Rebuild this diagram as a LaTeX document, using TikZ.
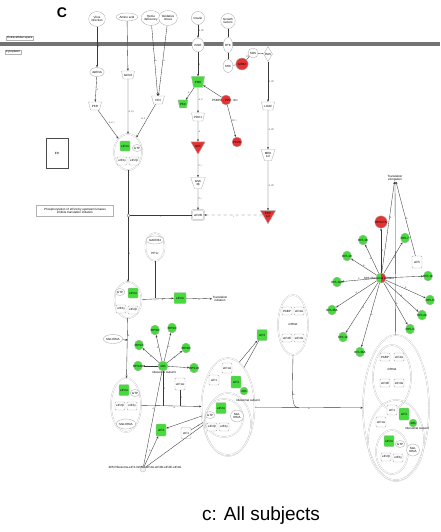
\documentclass[tikz,border=0pt]{standalone}
\usepackage{fontspec}
\setmainfont{Liberation Sans}
\usetikzlibrary{shapes.geometric,arrows.meta}
\definecolor{upg}{RGB}{70,218,60}
\definecolor{dnr}{RGB}{226,52,52}
\begin{document}
\begin{tikzpicture}[x=1pt,y=-1pt,
    tx/.style={font=\fontsize{3}{3.4}\selectfont, inner sep=0.3pt, align=center},
    mol/.style={tx, draw=gray!60, fill=white, rounded corners=1pt, minimum width=10pt, minimum height=8pt},
    oval/.style={tx, ellipse, draw=gray!60, fill=white, minimum width=10pt, minimum height=9pt},
    kin/.style={tx, trapezium, trapezium stretches=true, shape border rotate=180, draw=gray!60, fill=white, minimum width=13pt, minimum height=8pt},
    dtri/.style={tx, regular polygon, regular polygon sides=3, shape border rotate=180, draw=gray!60, minimum size=15pt, inner sep=0pt},
    dot/.style={circle, draw=gray!60, minimum size=10pt, inner sep=0pt, tx},
    sat/.style={ellipse, draw=gray!60, fill=upg, minimum width=9pt, minimum height=10pt, inner sep=0pt, label={[tx]center:#1}},
    cplx/.style={ellipse, draw=gray!50, double=white, double distance=0.8pt, line width=0.3pt, inner sep=0pt},
    up/.style={fill=upg},
    dn/.style={fill=dnr},
    lnk/.style={draw=gray!45!black, line width=0.35pt},
    arr/.style={lnk, -{Stealth[length=2.4pt,width=1.9pt]}},
    el/.style={font=\fontsize{2.2}{2.4}\selectfont, inner sep=0.4pt, text=gray!40!black}]
    \useasboundingbox (0,0) rectangle (440,532);
    \fill [black!55] (0,42.5) rectangle (440,46.5);
    \node [font=\bfseries\fontsize{14}{14}\selectfont] (pnl) at (62,13) {C};
    \node [tx, draw=gray!60, inner sep=0.8pt] (exsp) at (20,38) {Extracellular space};
    \node [tx, draw=gray!60, inner sep=0.8pt] (cyto) at (13,52) {Cytoplasm};
    \node [oval, minimum width=14pt, minimum height=15pt] (virus) at (97,19) {Virus\\infection};
    \node [oval, minimum width=19pt, minimum height=8pt] (amino) at (127,17) {Amino acid};
    \node [oval, minimum width=15pt, minimum height=15pt] (heme) at (151,18) {Heme\\deficiency};
    \node [oval, minimum width=15pt, minimum height=15pt] (oxid) at (168,18) {Oxidative\\stress};
    \node [oval, minimum width=12pt, minimum height=13pt] (insulin) at (198,18) {Insulin};
    \node [oval, minimum width=13pt, minimum height=15pt] (growth) at (228,21) {Growth\\factors};
    \node [oval, minimum width=12pt, minimum height=14pt] (insr) at (198,45) {INSR};
    \node [oval, minimum width=8pt, minimum height=15pt] (rtk) at (228,45) {RTK};
    \node [oval, minimum width=9pt, minimum height=13pt] (shc) at (228,66) {SHC};
    \node [oval, dn, minimum width=9pt, minimum height=12pt] (grb) at (242,64) {GRB2};
    \node [oval, minimum width=10pt, minimum height=10pt] (sos) at (253,53) {SOS};
    \node [tx, diamond, draw=gray!60, fill=white, minimum width=9pt, minimum height=15pt, inner sep=0pt] (ras) at (268,54) {RAS};
    \node [oval, minimum width=13pt, minimum height=9pt] (dsrna) at (97,72) {dsRNA};
    \node [kin] (gcn) at (128,75) {GCN2};
    \node [kin] (pkr) at (95,106) {PKR};
    \node [kin] (hri) at (158,100) {HRI};
    \node [kin, up, minimum height=11pt] (pi3k) at (198,82) {PI3K};
    \node [kin, up, minimum width=9pt] (pkc) at (183,104) {PKC};
    \node [dot, dn] (p58) at (226,100) {};
    \node [tx] (p58t) at (225,100) {P58IPK - PP2 - Src};
    \node [kin] (pdk) at (198,117) {PDK1};
    \node [kin] (craf) at (268,106) {c-RAF};
    \node [dot, dn] (pp2) at (237,142) {PP2A};
    \node [dtri, dn] (akt) at (198,146) {AKT};
    \node [kin, minimum height=11pt] (mek) at (268,155) {MEK\\1/2};
    \node [kin, minimum height=11pt] (gsk) at (198,183) {GSK\\3β};
    \node [mol, double=white, double distance=0.5pt, minimum width=12pt, minimum height=10pt] (eif2b) at (198,215) {eIF2B};
    \node [dtri, dn] (erk) at (268,215) {ERK\\1/2};
    \node [tx, draw=black!70, line width=0.8pt, minimum width=22pt, minimum height=30pt] (er) at (57,153) {ER};
    \node [tx, draw=gray!60, minimum width=77pt, minimum height=11pt] (phos) at (75,211) {Phosphorylation of eIF2α by upstream kinases\\inhibits translation initiation};
    \node [cplx, minimum width=28pt, minimum height=36pt] (c1) at (128,152) {};
    \node [mol, up, minimum height=10pt] (a1) at (125,146) {eIF2α};
    \node [oval, minimum width=8pt, minimum height=7pt] (gtp1) at (137,148) {GTP};
    \node [mol] (g1) at (122,161) {eIF2γ};
    \node [mol] (b1) at (134,161) {eIF2β};
    \draw [arr] (virus) -- node [el, right] {A} (dsrna);
    \draw [arr] (dsrna) -- node [el, right] {A} (pkr);
    \draw [arr] (amino) -- (gcn);
    \draw [arr] (heme) -- node [el, right] {A} (hri);
    \draw [arr] (oxid) -- node [el, right] {A} (hri);
    \draw [arr] (pkr) -- node [el, above right] {A, P, I} (c1);
    \draw [arr] (gcn) -- node [el, right, pos=0.6] {A, P, I} (c1);
    \draw [arr] (hri) -- node [el, above left] {A, P} (c1);
    \draw [arr] (insulin) -- node [el, right] {A, PP} (insr);
    \draw [arr] (insr) -- node [el, right] {A} (pi3k);
    \draw [arr] (pi3k) -- node [el, above left] {A} (pkc);
    \draw [arr] (pi3k) -- node [el, right] {A, P} (pdk);
    \draw [arr] (p58) -- (pi3k);
    \draw [arr] (p58) -- node [el, right] {PP, I} (pp2);
    \draw [arr] (pdk) -- node [el, right] {A} (akt);
    \draw [arr] (akt) -- node [el, right] {P, I} (gsk);
    \draw [arr] (gsk) -- node [el, right] {P, I} (eif2b);
    \draw [lnk] (growth) -- (rtk);
    \draw [lnk] (rtk) -- (shc);
    \draw [lnk] (shc) -- (grb);
    \draw [lnk] (grb) -- node [el, above] {PP} (sos);
    \draw [lnk] (sos) -- (ras);
    \draw [arr] (ras) -- node [el, right] {A, PP} (craf);
    \draw [arr] (craf) -- node [el, right] {A, PP} (mek);
    \draw [arr] (mek) -- node [el, right] {A, PP} (erk);
    \draw [arr, dashed] (erk) -- node [el, below] {I} (eif2b);
    \node [cplx, minimum width=27pt, minimum height=36pt] (c2) at (128,300) {};
    \draw [arr] (c1) -- node [el, right, pos=0.75] {A} (c2);
    \node [draw=gray!60, fill=white, minimum size=2.6pt, inner sep=0pt] (sq) at (128,215) {};
    \draw [lnk] (eif2b) -- node [el, below] {I} (sq);
    \node [cplx, minimum width=19pt, minimum height=28pt] (gd) at (155,247) {};
    \node [oval, minimum width=14pt, minimum height=8pt] (gadd) at (155,240) {GADD34};
    \node [tx] (pp1) at (155,253) {PP1c};
    \node [oval, minimum width=8pt, minimum height=7pt] (gtp2) at (120,292) {GTP};
    \node [mol, up, minimum height=10pt] (a2) at (133,293) {eIF2α};
    \node [mol] (g2) at (121,309) {eIF2γ};
    \node [mol] (b2) at (133,310) {eIF2β};
    \node [mol, up, minimum width=12pt, minimum height=11pt] (a3) at (180,298) {eIF2α};
    \node [tx] (tinit) at (220,299) {Translation\\initiation};
    \draw [arr] (c2) -- node [el, below, pos=0.65] {A} (a3);
    \draw [arr] (a3) -- node [el, below] {A} (tinit);
    \node [circle, draw=gray!60, fill=white, minimum size=2.6pt, inner sep=0pt] (gdend) at (155,299) {};
    \draw [lnk] (gd) -- node [el, right] {I} (gdend);
    \node [oval, minimum width=13pt, minimum height=9pt] (met1) at (113,339) {Met-tRNA};
    \node [cplx, minimum width=30pt, minimum height=54pt] (c3) at (126,405) {};
    \node [mol, up, minimum height=11pt] (a4) at (124,390) {eIF2α};
    \node [oval, minimum width=8pt, minimum height=7pt] (gtp4) at (135,393) {GTP};
    \node [mol] (b4) at (120,406) {eIF2β};
    \node [mol] (g4) at (132,406) {eIF2γ};
    \node [oval, minimum width=14pt, minimum height=10pt] (met4) at (126,424) {Met-tRNA};
    \draw [arr] (c2) -- node [el, right, pos=0.3] {A} (c3);
    \coordinate (j2) at (128,340);
    \draw [arr] (met1) -- node [el, below] {A} (j2);
    \node [dot, up] (s0) at (163,366) {40S};
    \node [tx] (s0t) at (164,372) {ribosomal subunit};
    \node [sat=RPS6] (p1) at (155,330) {};
    \node [sat=RPS3] (p2) at (172,328) {};
    \node [sat=RPS2] (p3) at (139,345) {};
    \node [sat=RPS8] (p4) at (186,348) {};
    \node [sat=RPS4X] (p5) at (138,366) {};
    \node [sat=RPS10] (p6) at (194,368) {};
    \draw [arr] (s0) -- node [el, left] {A} (p1);
    \draw [arr] (s0) -- node [el, right] {A} (p2);
    \draw [arr] (s0) -- node [el, below] {A} (p3);
    \draw [arr] (s0) -- node [el, below] {A} (p4);
    \draw [arr] (s0) -- (p5);
    \draw [arr] (s0) -- (p6);
    \node [mol, minimum height=12pt] (e1a) at (180,384) {eIF1A};
    \node [mol, up, minimum height=12pt] (e3a) at (161,430) {eIF3};
    \node [mol, minimum height=11pt] (e1b) at (186,433) {eIF1};
    \node [circle, draw=gray!50, fill=gray!10, minimum size=6pt, inner sep=0pt] (pt40) at (143,469) {};
    \node [tx] (pt40t) at (145,467) {40S Ribosome-eIF3-mRNA-eIF4A-eIF4B-eIF4E-eIF4G};
    \node [cplx, minimum width=53pt, minimum height=98pt] (c4) at (228,407) {};
    \node [cplx, minimum width=46pt, minimum height=62pt] (c4b) at (228,424) {};
    \node [cplx, minimum width=38pt, minimum height=38pt] (c4c) at (224,418) {};
    \node [mol, minimum height=10pt] (e1a2) at (227,368) {eIF1A};
    \node [mol, minimum height=10pt] (e1c) at (214,380) {eIF1};
    \node [mol, up, minimum height=12pt] (e3b) at (236,382) {eIF3};
    \node [dot, up, minimum size=8pt] (s40b) at (244,391) {40S};
    \node [tx] (s40bt) at (248,400) {ribosomal subunit};
    \node [mol, up, minimum height=11pt] (a5) at (221,408) {eIF2α};
    \node [oval, minimum width=8pt, minimum height=7pt] (gtp5) at (210,415) {GTP};
    \node [mol] (b5) at (212,427) {eIF2β};
    \node [mol] (g5) at (224,427) {eIF2γ};
    \node [oval, minimum width=13pt, minimum height=12pt] (met5) at (237,416) {Met-\\tRNA};
    \coordinate (j4) at (163,406);
    \coordinate (j5) at (180,406);
    \draw [arr] (c3) -- node [el, below, pos=0.55] {A} (c4);
    \draw [lnk] (s0) -- node [el, right] {A} (j4);
    \draw [lnk] (e1a) -- node [el, right] {A} (j5);
    \draw [lnk] (pt40) -- node [el, left, pos=0.6] {A} (s0);
    \draw [arr] (pt40) -- node [el, left] {A} (e3a);
    \draw [lnk] (pt40) -- (c4);
    \draw [arr] (c4) -- (e3a);
    \draw [lnk] (c4) -- node [el, right] {A} (e1b);
    \node [mol, up, minimum height=11pt] (e3c) at (262,335) {eIF3};
    \draw [arr] (c4.76) -- node [el, right] {I} (e3c);
    \draw [lnk] (c4.68) -- (e3c);
    \node [cplx, minimum width=30pt, minimum height=60pt] (c5) at (293,325) {};
    \node [mol] (pabp1) at (287,311) {PABP};
    \node [mol] (e4a1) at (299,311) {eIF4A};
    \node [tx] (mrna1) at (293,324) {mRNA};
    \node [mol] (e4e1) at (287,338) {eIF4E};
    \node [mol] (e4g1) at (299,338) {eIF4G};
    \node [cplx, minimum width=66pt, minimum height=146pt] (c6) at (396,408) {};
    \node [cplx, minimum width=38pt, minimum height=64pt] (c6a) at (392,377) {};
    \node [cplx, minimum width=56pt, minimum height=80pt] (c6b) at (396,440) {};
    \node [cplx, minimum width=32pt, minimum height=44pt] (c6c) at (392,452) {};
    \node [mol] (pabp2) at (385,357) {PABP};
    \node [mol] (e4a2) at (399,357) {eIF4A};
    \node [tx] (mrna2) at (392,369) {mRNA};
    \node [mol] (e4e2) at (385,383) {eIF4E};
    \node [mol] (e4g2) at (399,383) {eIF4G};
    \node [mol, minimum height=10pt] (e1d) at (392,410) {eIF1};
    \node [mol, minimum height=10pt] (e1a3) at (381,422) {eIF1A};
    \node [mol, up, minimum height=12pt] (e3d) at (404,414) {eIF3};
    \node [dot, up, minimum size=8pt] (s40c) at (413,423) {40S};
    \node [tx] (s40ct) at (417,428) {ribosomal subunit};
    \node [mol, up, minimum height=11pt] (a6) at (389,441) {eIF2α};
    \node [oval, minimum width=8pt, minimum height=7pt] (gtp6) at (400,444) {GTP};
    \node [mol] (b6) at (386,457) {eIF2β};
    \node [mol] (g6) at (398,458) {eIF2γ};
    \node [oval, minimum width=13pt, minimum height=12pt] (met6) at (413,450) {Met-\\tRNA};
    \coordinate (j3) at (299,408);
    \draw [lnk] (c5.south) .. controls (292,406) .. node [el, right, pos=0.4] {A} (j3);
    \draw [arr] (c4) -- node [el, below] {A} (c6);
    \node [dot, up, minimum size=10pt, path picture={\fill [dnr] (path picture bounding box.north) rectangle (path picture bounding box.south east);}] (sr) at (381,278) {};
    \node [tx] (srt) at (379,278) {60S ribosomal subunit};
    \node [dot, dn, minimum size=9pt] (r0) at (381,222) {RPS27A};
    \node [sat=RPL18] (r1) at (363,240) {};
    \node [sat=RPL7] (r2) at (405,238) {};
    \node [sat=RPL13] (r3) at (347,256) {};
    \node [sat=RPL10A] (r4) at (337,282) {};
    \node [sat=RPL35A] (r5) at (332,310) {};
    \node [sat=RPL11] (r6) at (343,337) {};
    \node [sat=RPL36A] (r7) at (360,352) {};
    \node [sat=RPL3] (r8) at (410,329) {};
    \node [sat=RPL22] (r9) at (422,315) {};
    \node [sat=RPL5] (r10) at (430,300) {};
    \node [sat=RPL14] (r11) at (428,276) {};
    \node [mol, minimum height=12pt] (e5) at (417,262) {eIF5};
    \node [tx] (te) at (395,178) {Translation\\elongation};
    \draw [arr] (sr) -- node [el, right] {A} (r0);
    \draw [arr] (sr) -- node [el, left] {A} (r1);
    \draw [arr] (sr) -- node [el, right] {A} (r2);
    \draw [arr] (sr) -- node [el, above] {A} (r3);
    \draw [arr] (sr) -- node [el, above] {A} (r4);
    \draw [arr] (sr) -- node [el, above] {A} (r5);
    \draw [arr] (sr) -- node [el, right] {A} (r6);
    \draw [arr] (sr) -- node [el, right] {A} (r7);
    \draw [arr] (sr) -- node [el, right] {A} (r8);
    \draw [arr] (sr) -- node [el, above] {A} (r9);
    \draw [arr] (sr) -- node [el, above] {A} (r10);
    \draw [arr] (sr) -- (r11);
    \draw [arr] (sr) -- node [el, right, pos=0.6] {A} (te);
    \draw [arr] (c6) -- (te);
    \draw [arr] (e5) -- node [el, right] {A} (te);
    \node [font=\fontsize{19}{19}\selectfont] (cap) at (261,516) {c: All subjects};
\end{tikzpicture}
\end{document}
